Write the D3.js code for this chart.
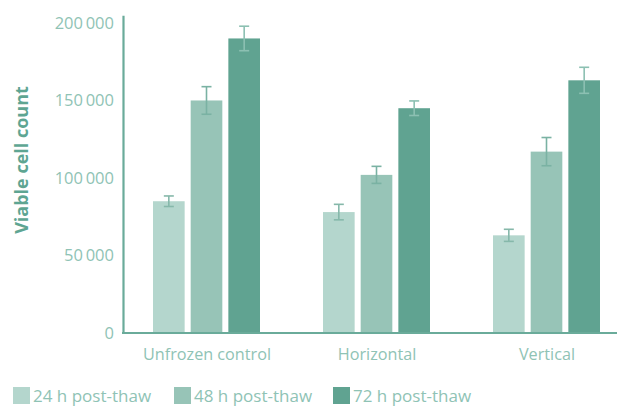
<!DOCTYPE html>
<html>
<head>
<meta charset="utf-8">
<script src="https://cdn.jsdelivr.net/npm/d3@7/dist/d3.min.js"></script>
<style>
  html, body { margin: 0; padding: 0; background: #fff; }
  svg text { font-family: "Open Sans", "Noto Sans", sans-serif; }
</style>
</head>
<body>
<svg id="chart" width="617" height="407"></svg>
<script>
// Viable cell counts after thawing, by storage orientation
const categories = ["Unfrozen control", "Horizontal", "Vertical"];
const seriesNames = ["24 h post-thaw", "48 h post-thaw", "72 h post-thaw"];
const values24 = [85000, 78000, 63000];
const values48 = [150000, 102000, 117000];
const values72 = [190000, 145000, 163000];
const errors24 = [3400, 5000, 3900];
const errors48 = [8900, 5500, 9100];
const errors72 = [7900, 4700, 8400];
const yTicks = [0, 50000, 100000, 150000, 200000];

const seriesValues = [values24, values48, values72];
const seriesErrors = [errors24, errors48, errors72];
const colors = ["#b4d6cd", "#97c4b7", "#60a391"];
const errColors = ["#86b8aa", "#7ab2a3", "#8cc0b2"];

const svg = d3.select("#chart");
const axisColor = "#6aab9a";
const labelColor = "#8fc3b5";

const y = d3.scaleLinear().domain([0, 205000]).range([333, 15.2]);
const x0 = d3.scaleBand().domain(categories).range([121, 631]);
const x1 = d3.scaleBand().domain(seriesNames).range([32, 139]).paddingInner(0.16);

const locale = d3.formatLocale({ decimal: ".", thousands: "\u2009", grouping: [3], currency: ["", ""] });
const fmt = locale.format(",d");

// y axis
const yAxis = svg.append("g")
  .attr("transform", "translate(123,0)")
  .call(d3.axisLeft(y).tickValues(yTicks).tickFormat(fmt).tickSize(0).tickPadding(9));
yAxis.select(".domain").attr("stroke", axisColor).attr("stroke-width", 2.2);
yAxis.selectAll("text").attr("fill", labelColor).style("font-size", "16.5px");

// bars
const rows = categories.map((c, i) => ({
  cat: c,
  items: seriesNames.map((s, j) => ({ s, j, v: seriesValues[j][i], e: seriesErrors[j][i] }))
}));

const groups = svg.append("g").selectAll("g").data(rows).join("g")
  .attr("transform", d => `translate(${x0(d.cat)},0)`);

groups.selectAll("rect").data(d => d.items).join("rect")
  .attr("x", d => x1(d.s))
  .attr("width", x1.bandwidth())
  .attr("y", d => y(d.v))
  .attr("height", d => y(0) - y(d.v))
  .attr("fill", d => colors[d.j]);

// error bars
const eb = groups.selectAll("g.err").data(d => d.items).join("g").attr("class", "err")
  .attr("stroke", d => errColors[d.j]).attr("stroke-width", 1.6).attr("fill", "none");
eb.append("line")
  .attr("x1", d => x1(d.s) + x1.bandwidth() / 2)
  .attr("x2", d => x1(d.s) + x1.bandwidth() / 2)
  .attr("y1", d => y(d.v + d.e))
  .attr("y2", d => y(d.v - d.e));
[1, -1].forEach(sign => {
  eb.append("line")
    .attr("x1", d => x1(d.s) + x1.bandwidth() / 2 - 5)
    .attr("x2", d => x1(d.s) + x1.bandwidth() / 2 + 5)
    .attr("y1", d => y(d.v + sign * d.e))
    .attr("y2", d => y(d.v + sign * d.e));
});

// x axis
const xAxis = svg.append("g")
  .attr("transform", "translate(0,333)")
  .call(d3.axisBottom(x0).tickSize(0).tickPadding(15));
xAxis.select(".domain").attr("stroke", axisColor).attr("stroke-width", 2.2)
  .attr("d", "M122,0H617");
xAxis.selectAll(".tick text").attr("fill", labelColor).style("font-size", "16.2px")
  .attr("transform", "translate(1,0)");

// y axis title
svg.append("text")
  .attr("transform", "translate(28,160) rotate(-90)")
  .attr("text-anchor", "middle")
  .attr("fill", "#5ea592")
  .style("font-size", "18px")
  .style("font-weight", "700")
  .text("Viable cell count");

// legend
const legendX = [13, 174, 333];
const legend = svg.append("g").selectAll("g").data(seriesNames).join("g")
  .attr("transform", (d, i) => `translate(${legendX[i]},388)`);
legend.append("rect").attr("width", 17).attr("height", 17).attr("y", -1)
  .attr("fill", (d, i) => colors[i]);
legend.append("text").attr("x", 20).attr("y", 14)
  .attr("fill", labelColor).style("font-size", "17px").text(d => d);
</script>
</body>
</html>
